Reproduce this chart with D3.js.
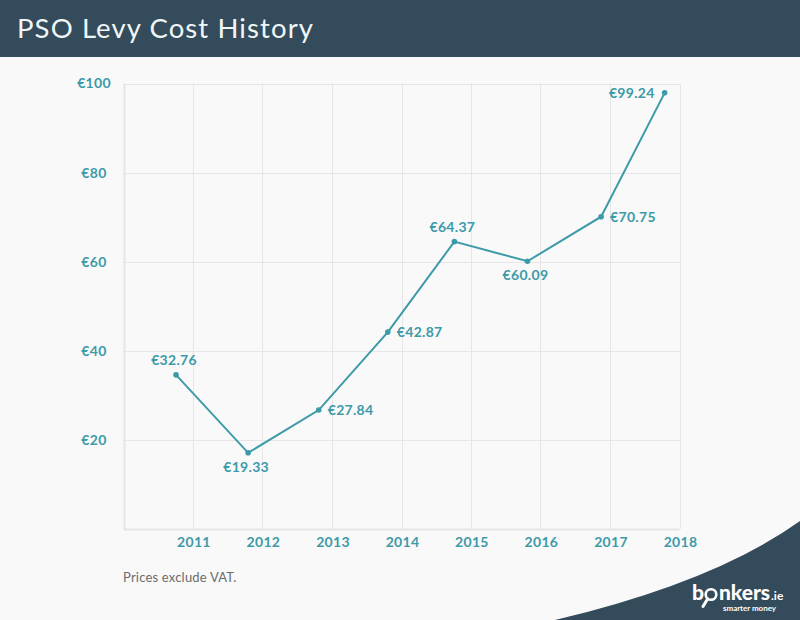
<!DOCTYPE html>
<html><head><meta charset="utf-8">
<script src="https://cdn.jsdelivr.net/npm/d3@7"></script>
<style>body{margin:0;background:#f9f9f9;}svg{display:block;}</style>
</head><body>
<script>
// Data
const dates = ["2010-10-04","2011-10-18","2012-10-23","2013-10-21","2014-10-06","2015-10-25","2016-11-15","2017-10-15"];
const plotted = [34.6, 17.1, 26.7, 44.2, 64.5, 60.1, 70.1, 97.9];
const labels = ["€32.76","€19.33","€27.84","€42.87","€64.37","€60.09","€70.75","€99.24"];
const labelPos = ["above","below","right","right","above","below","right","left"];
const yTicks = [20, 40, 60, 80, 100];
const xTickYears = [2011, 2012, 2013, 2014, 2015, 2016, 2017, 2018];

const W = 800, H = 620;
const teal = "#3d9aa8", dark = "#344b5b";
const font = "Lato, 'Open Sans', sans-serif";
const svg = d3.select("body").append("svg").attr("width", W).attr("height", H);
svg.append("rect").attr("width", W).attr("height", H).attr("fill", "#f9f9f9");

// header
svg.append("rect").attr("width", W).attr("height", 57).attr("fill", dark);
svg.append("text").attr("x", 17).attr("y", 38).attr("fill", "#f0f6f6")
  .attr("font-family", font).attr("font-size", 27.5).attr("letter-spacing", 1.1).text("PSO Levy Cost History");

const parse = d3.timeParse("%Y-%m-%d");
const x = d3.scaleTime().domain([new Date(2010,0,1), new Date(2018,0,1)]).range([123.5, 679.5]);
const y = d3.scaleLinear().domain([0, 100]).range([529, 83.5]);

const g = svg.append("g");
// grid
g.selectAll(".hg").data([0].concat(yTicks)).join("line")
  .attr("x1", 123.5).attr("x2", 679.5).attr("y1", d => Math.round(y(d))+0.5).attr("y2", d => Math.round(y(d))+0.5)
  .attr("stroke", "#e6e6e6").attr("stroke-width", d => d===0 ? 2 : 1);
g.selectAll(".vg").data([2010].concat(xTickYears)).join("line")
  .attr("x1", d => Math.round(x(new Date(d,0,1)))+0.5).attr("x2", d => Math.round(x(new Date(d,0,1)))+0.5)
  .attr("y1", 83.5).attr("y2", 529).attr("stroke", "#e6e6e6").attr("stroke-width", d => d===2010 ? 2 : 1);

// y labels
g.selectAll(".yl").data(yTicks).join("text")
  .attr("x", 94).attr("y", d => y(d)).attr("dy", "0.35em").attr("text-anchor", "middle")
  .attr("fill", teal).attr("font-family", font).attr("font-weight", 700).attr("font-size", 14)
  .attr("letter-spacing", 0.3).text(d => "€" + d);
// x labels
g.selectAll(".xl").data(xTickYears).join("text")
  .attr("x", d => x(new Date(d,0,1)) + 1).attr("y", 547).attr("text-anchor", "middle")
  .attr("fill", teal).attr("font-family", font).attr("font-weight", 700).attr("font-size", 14)
  .attr("letter-spacing", 0.3).text(d => d);

const pts = dates.map((d, i) => ({x: x(parse(d)), y: y(plotted[i]), label: labels[i], pos: labelPos[i]}));
svg.append("path").datum(pts)
  .attr("d", d3.line().x(d => d.x).y(d => d.y))
  .attr("fill", "none").attr("stroke", teal).attr("stroke-width", 2);
svg.selectAll(".pt").data(pts).join("circle")
  .attr("cx", d => d.x).attr("cy", d => d.y).attr("r", 2.8).attr("fill", teal);
svg.selectAll(".lb").data(pts).join("text")
  .attr("x", d => d.pos === "right" ? d.x + 9 : d.pos === "left" ? d.x - 10 : d.x - 2)
  .attr("y", d => d.pos === "above" ? d.y - 10 : d.pos === "below" ? d.y + 19 : d.y + 5)
  .attr("text-anchor", d => d.pos === "right" ? "start" : d.pos === "left" ? "end" : "middle")
  .attr("fill", teal).attr("font-family", font).attr("font-weight", 700).attr("font-size", 14)
  .attr("letter-spacing", 0.3).text(d => d.label);

// footnote
svg.append("text").attr("x", 123).attr("y", 582).attr("fill", "#6b6b6b")
  .attr("font-family", font).attr("font-size", 13).attr("letter-spacing", 0.2).text("Prices exclude VAT.");

// corner shape
svg.append("path").attr("d", "M555,620 Q715,582 800,521 L800,620 Z").attr("fill", dark);
// logo
const logo = svg.append("g").attr("fill", "#fff").attr("font-family", font);
logo.append("text").attr("x", 692).attr("y", 600).attr("font-size", 21).attr("font-weight", 900).text("b");
logo.append("circle").attr("cx", 711).attr("cy", 594.5).attr("r", 5.3).attr("fill", "none").attr("stroke", "#fff").attr("stroke-width", 2.6);
logo.append("line").attr("x1", 707.5).attr("y1", 599).attr("x2", 703).attr("y2", 606.5).attr("stroke", "#fff").attr("stroke-width", 3).attr("stroke-linecap", "round");
logo.append("text").attr("x", 719).attr("y", 600).attr("font-size", 21).attr("font-weight", 900).attr("textLength", 51).text("nkers");
logo.append("text").attr("x", 771).attr("y", 600).attr("font-size", 12).attr("font-weight", 700).text(".ie");
logo.append("text").attr("x", 723).attr("y", 611).attr("font-size", 8).attr("font-weight", 700).attr("textLength", 53).text("smarter money");
</script>
</body></html>
